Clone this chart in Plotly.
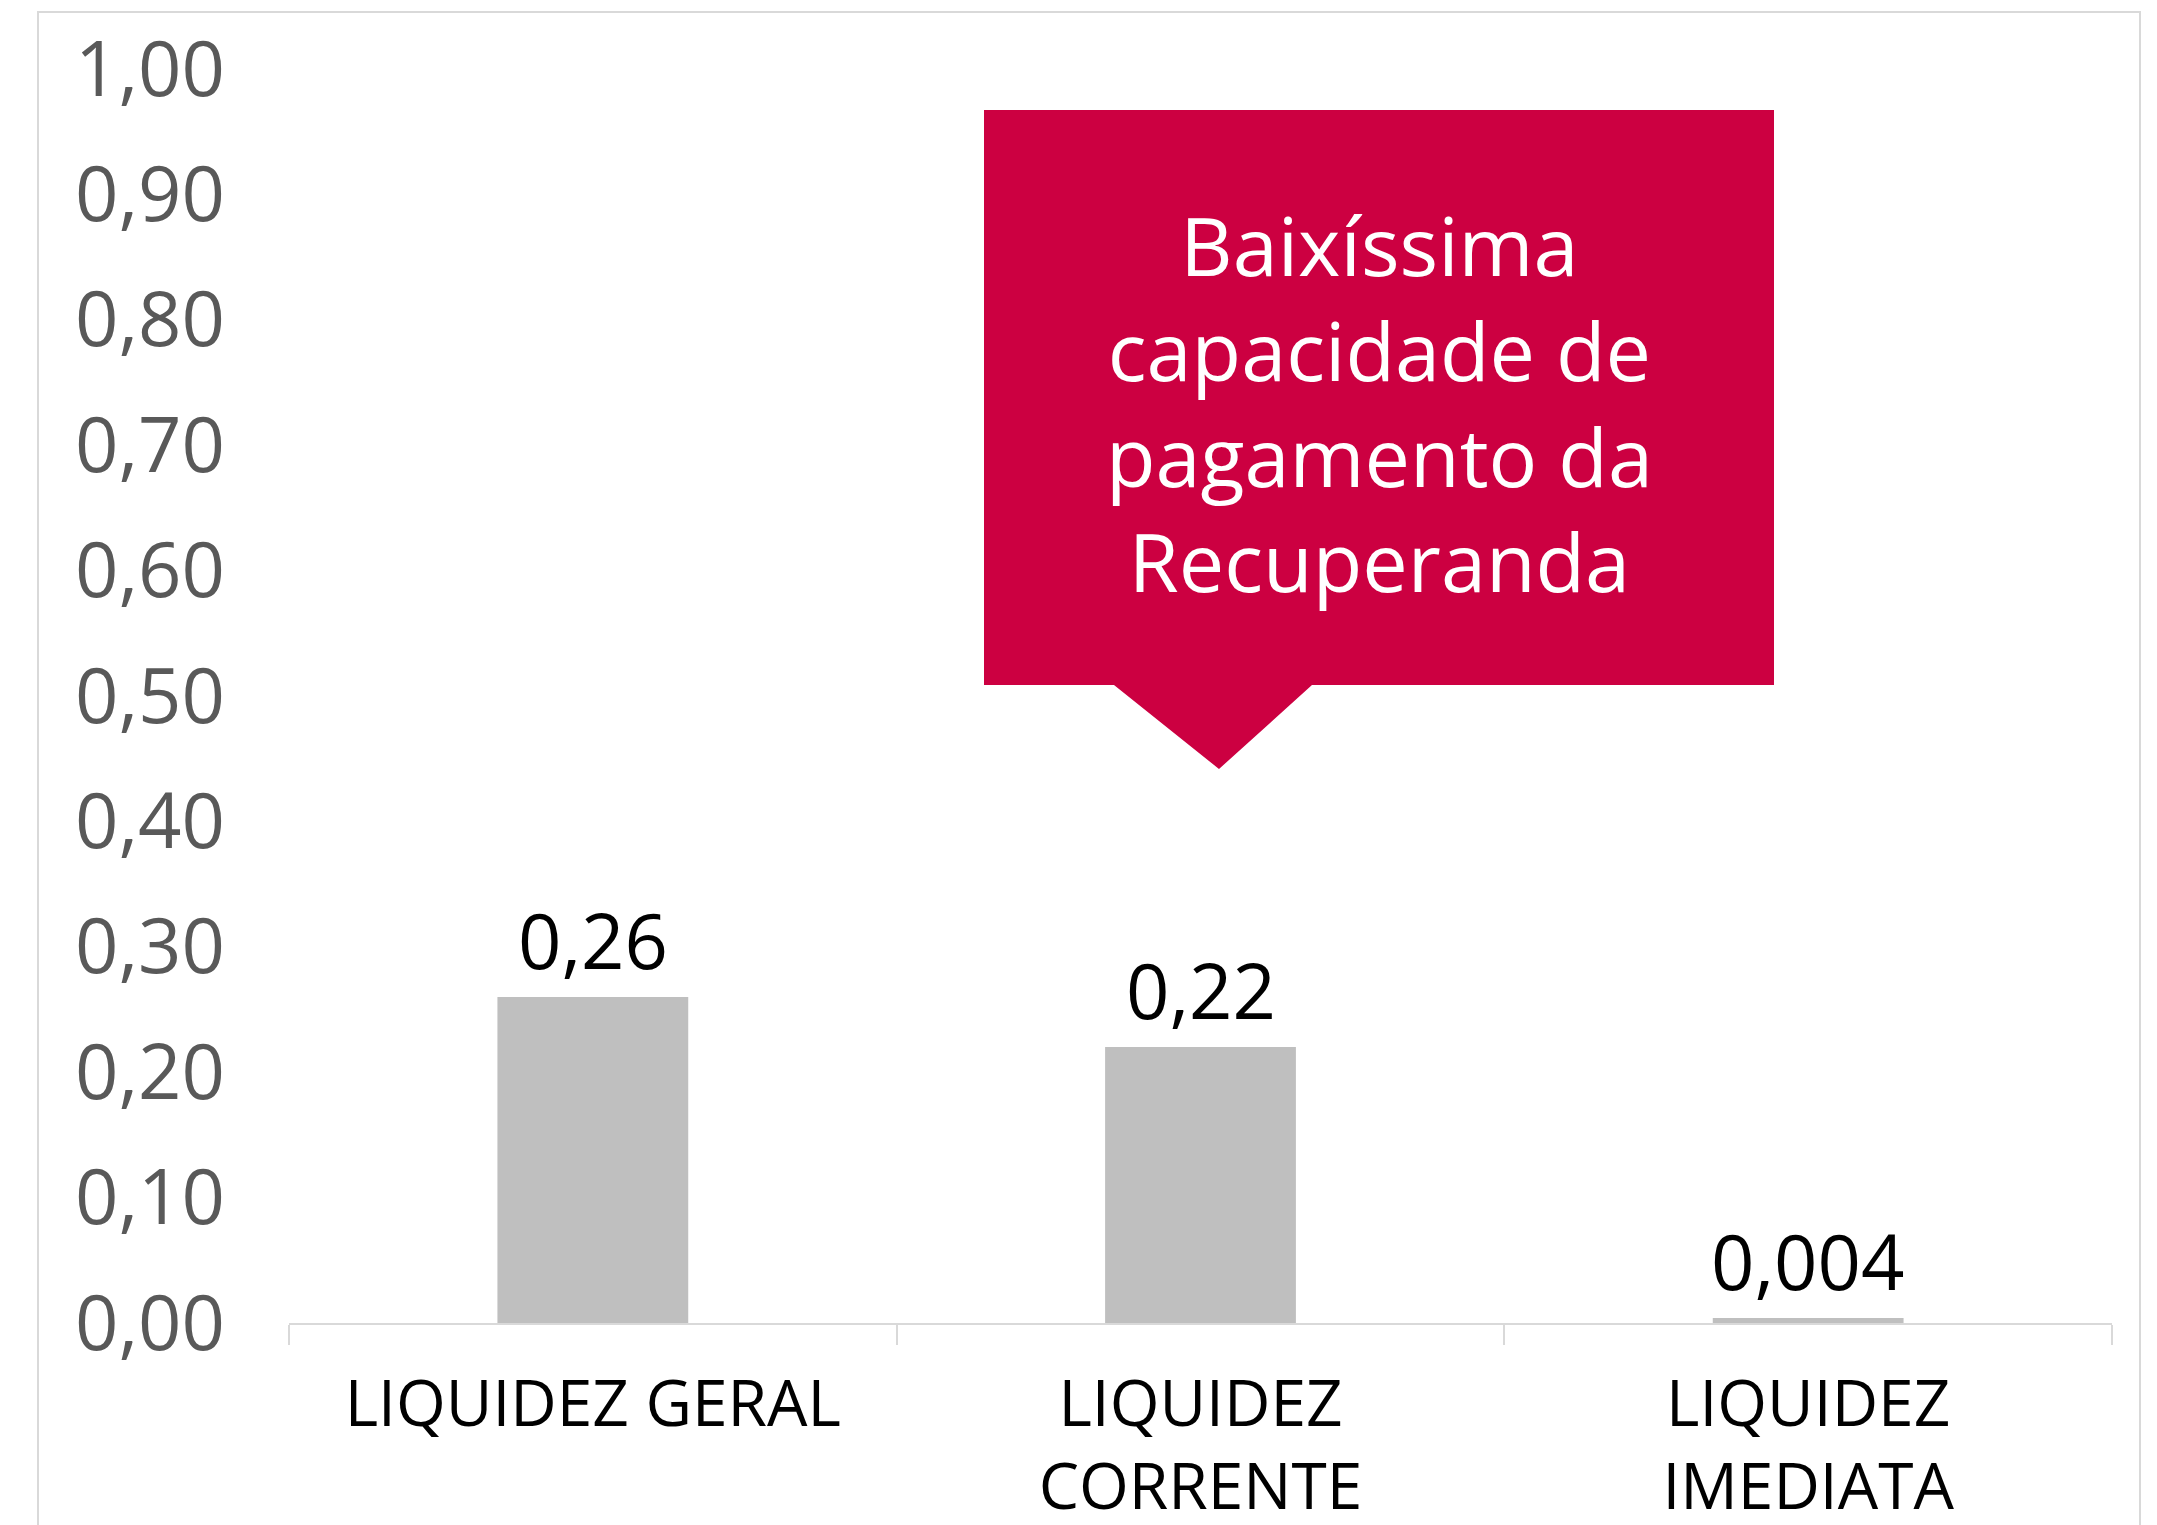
import plotly.graph_objects as go

categories = ["LIQUIDEZ GERAL", "LIQUIDEZ<br>CORRENTE", "LIQUIDEZ<br>IMEDIATA"]
values = [0.26, 0.22, 0.004]
value_labels = ["0,26", "0,22", "0,004"]
y_ticks = [0.0, 0.1, 0.2, 0.3, 0.4, 0.5, 0.6, 0.7, 0.8, 0.9, 1.0]
callout_lines = ["Baixíssima", "capacidade de", "pagamento da", "Recuperanda"]

W, H = 2157, 1525
OFF = 8  # page body margin
L, T = 289 - OFF, 69 - OFF
pw, ph = 1823, 1254
R = W - L - pw
B = H - T - ph

def px(xp):
    return (xp - OFF - L) / pw

def py(yp):
    return (T + ph - (yp - OFF)) / ph

fig = go.Figure()
fig.add_trace(go.Bar(
    x=categories, y=values,
    marker=dict(color="#BFBFBF", line=dict(width=0)),
    width=0.314,
    hoverinfo="skip",
))

for c, v, t in zip(categories, values, value_labels):
    fig.add_annotation(x=c, y=v, text=t, showarrow=False, yanchor="bottom",
                       yshift=4, font=dict(family="Open Sans", size=76, color="#000000"))

# outer chart border
fig.add_shape(type="rect", xref="paper", yref="paper",
              x0=px(38), x1=px(2140), y0=py(1580), y1=py(12),
              line=dict(color="#D9D9D9", width=2), fillcolor="rgba(0,0,0,0)", layer="below")

# callout box
def P(xpix, ypix):
    return f"{px(xpix):.5f},{py(ypix):.5f}"

path = ("M " + P(984, 110) + " L " + P(1774, 110) + " L " + P(1774, 685) +
        " L " + P(1312, 685) + " L " + P(1219, 769) + " L " + P(1114, 685) +
        " L " + P(984, 685) + " Z")
fig.add_shape(type="path", xref="paper", yref="paper", path=path,
              fillcolor="#CC0041", line=dict(width=0))

fig.add_annotation(xref="paper", yref="paper", x=px(1379), y=py(402),
                   xanchor="center", yanchor="middle",
                   text="<br>".join(callout_lines), showarrow=False, align="center",
                   font=dict(family="Open Sans", size=81, color="#FFFFFF"))

fig.update_layout(
    width=W, height=H,
    margin=dict(l=L, r=R, t=T, b=B, autoexpand=False),
    paper_bgcolor="white", plot_bgcolor="white",
    separators=",.",
    showlegend=False,
)
fig.update_xaxes(
    showline=True, linecolor="#D9D9D9", linewidth=2,
    ticks="outside", tickson="boundaries", ticklen=20, tickcolor="#D9D9D9", tickwidth=2,
    ticklabelstandoff=24,
    tickfont=dict(family="Open Sans", size=64, color="#000000"),
    range=[-0.5, 2.5], showgrid=False, zeroline=False,
)
fig.update_yaxes(
    range=[0, 1.0], tickvals=y_ticks, tickformat=".2f",
    showgrid=False, zeroline=False, showline=False, ticks="",
    ticklabelstandoff=63,
    tickfont=dict(family="Open Sans", size=76, color="#595959"),
)

fig.write_html("out.html")
